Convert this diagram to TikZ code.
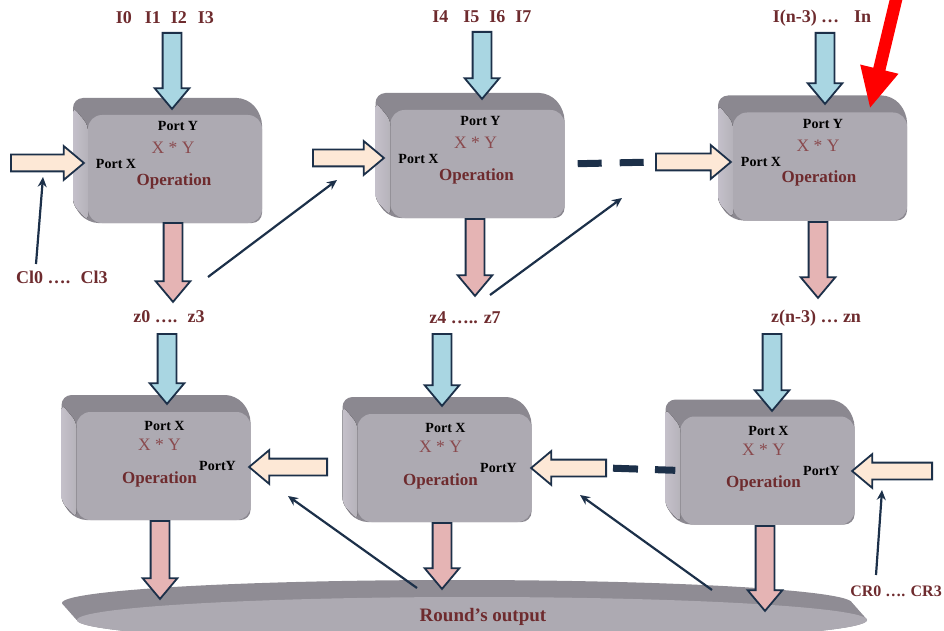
\documentclass[tikz,border=0pt]{standalone}
\usepackage{fontspec}
\setmainfont{Liberation Serif}
\usetikzlibrary{positioning, arrows.meta, shapes.arrows}

\definecolor{navy}{HTML}{1C3049}
\definecolor{maroon}{HTML}{6E2B2E}
\definecolor{mulred}{HTML}{8A4A4E}
\definecolor{lblue}{HTML}{A9D6E2}
\definecolor{lpink}{HTML}{E5B4B4}
\definecolor{peach}{HTML}{FDE8D6}
\definecolor{blktop}{HTML}{8B8890}
\definecolor{blkside}{HTML}{C4C0CA}
\definecolor{blkface}{HTML}{ADAAB2}
\definecolor{disctop}{HTML}{8F8C94}
\definecolor{discface}{HTML}{ADAAB2}

% block with its front face named #1, front centre at (#2,#3)
\newcommand{\opblock}[3]{%
  \begin{scope}[shift={(#2,#3)}]
    \fill[blktop, rounded corners=10pt] (-102,-71) -- (72,-71) -- (87,-54) -- (87,54) -- (-87,54) -- (-102,37) -- cycle;
    \fill[left color=blkside, right color=blkface!90!white, rounded corners=6pt] (-102,-62) -- (-87,-44) -- (-87,52) -- (-102,36) -- cycle;
    \node[fill=blkface, rounded corners=14pt, minimum width=174pt, minimum height=108pt, inner sep=0pt] (#1) at (0,0) {};
  \end{scope}}

\begin{document}
\begin{tikzpicture}[x=1pt, y=-1pt,
    barrow/.style={single arrow, draw=navy, line width=1.8pt, inner sep=0pt, text depth=0pt, single arrow tip angle=80, anchor=tail},
    vbar/.style={barrow, text height=17pt, single arrow head extend=8pt, rotate=-90},
    inarr/.style={vbar, fill=lblue},
    outarr/.style={vbar, fill=lpink},
    harr/.style={barrow, fill=peach, text height=15pt, single arrow head extend=8.5pt},
    thinarr/.style={draw=navy, line width=2.2pt, -{Stealth[length=10pt, width=9pt]}},
    dots/.style={draw=navy, line width=7pt},
    lbl/.style={text=maroon, font=\fontsize{18}{20}\selectfont\bfseries, inner sep=1pt},
    porttxt/.style={font=\fontsize{14}{16}\selectfont\bfseries, inner sep=1pt},
    multxt/.style={text=mulred, font=\fontsize{17.5}{19}\selectfont, inner sep=1pt},
    optxt/.style={text=maroon, font=\fontsize{17}{19}\selectfont\bfseries, inner sep=1pt}]
  \useasboundingbox (0,0) rectangle (944,631);
  \clip (0,0) rectangle (944,631);

  % output disc
  \foreach \t in {0,...,10}
    \fill[disctop] (457+1.5*\t, 603+1.7*\t) ellipse (395 and 23);
  \fill[discface] (472,620) ellipse (395 and 23);
  \node[text=maroon, font=\fontsize{19}{21}\selectfont\bfseries] (lout) at (483,617) {Round's output};

  % blocks
  \opblock{A}{175}{169}
  \opblock{B}{477.5}{164}
  \opblock{C}{820}{166.5}
  \opblock{D}{163.5}{466}
  \opblock{E}{444.5}{468}
  \opblock{F}{767.5}{470.5}

  % block texts, top row
  \foreach \b in {A,B,C}{
    \node[porttxt] (\b-py) at ([shift={(3,-43)}]\b) {Port Y};
    \node[multxt] (\b-mul) at ([shift={(-2,-21)}]\b) {X * Y};
    \node[porttxt] (\b-px) at ([shift={(-59,-5)}]\b) {Port X};
    \node[optxt] (\b-op) at ([shift={(-1,12)}]\b) {Operation};
  }
  % block texts, bottom row
  \foreach \b in {D,E,F}{
    \node[porttxt] (\b-px) at ([shift={(1,-40)}]\b) {Port X};
    \node[multxt] (\b-mul) at ([shift={(-4,-21)}]\b) {X * Y};
    \node[porttxt] (\b-py) at ([shift={(54,0)}]\b) {PortY};
    \node[optxt] (\b-op) at ([shift={(-4,13)}]\b) {Operation};
  }

  % inputs from above
  \node[inarr, minimum height=76pt] (inA) at (172,32) {};
  \node[inarr, minimum height=67pt] (inB) at (482,31) {};
  \node[inarr, minimum height=71pt] (inC) at (825,32) {};
  \node[inarr, minimum height=70pt] (inD) at (167,333) {};
  \node[inarr, minimum height=72pt] (inE) at (442,333) {};
  \node[inarr, minimum height=77pt] (inF) at (772,333) {};

  % outputs below
  \node[outarr, minimum height=79pt] (outA) at (173,222) {};
  \node[outarr, minimum height=77pt] (outB) at (475,218) {};
  \node[outarr, minimum height=76pt] (outC) at (818,221) {};
  \node[outarr, minimum height=78pt] (outD) at (160,520) {};
  \node[outarr, minimum height=66pt] (outE) at (442,522) {};
  \node[outarr, minimum height=85pt] (outF) at (765,525) {};

  % side inputs
  \node[harr, minimum height=73pt] (xA) at (10,163) {};
  \node[harr, minimum height=71pt] (xB) at (312,158) {};
  \node[harr, minimum height=75pt] (xC) at (655,162) {};
  \node[harr, rotate=180, minimum height=78pt] (yD) at (328,467) {};
  \node[harr, rotate=180, minimum height=75pt] (yE) at (607,468) {};
  \node[harr, rotate=180, minimum height=80pt] (yF) at (933,471) {};

  % dashes
  \draw[dots, dash pattern=on 24pt off 18pt, shorten <=13pt, shorten >=10pt] (B.east) -- (xC.tail);
  \draw[dots, dash pattern=on 25pt off 17pt, shorten <=6pt, shorten >=5pt] (yE.tail) -- (F.west);

  % labels
  \node[lbl] (lIA) at (165,18) {I0\hspace{13pt}I1\hspace{10pt}I2\hspace{11pt}I3};
  \node[lbl] (lIB) at (482,17) {I4\hspace{15pt}I5\hspace{10pt}I6\hspace{10pt}I7};
  \node[lbl] (lIC) at (822,18) {I(n-3) …\hspace{15pt}In};
  \node[lbl] (lzA) at (169,317) {z0 …. \ z3};
  \node[lbl] (lzB) at (465,318) {z4 ….. z7};
  \node[lbl] (lzC) at (816,318) {z(n-3) … zn};
  \node[lbl] (lcl) at (62,277) {Cl0 …. \ Cl3};
  \node[lbl, font=\fontsize{16}{18}\selectfont\bfseries, anchor=east] (lcr) at (943,591) {CR0 …. CR3};

  % thin arrows
  \coordinate (clfoot) at (36,264);   \coordinate (cltip) at (43,177);
  \coordinate (abfoot) at (208,277);  \coordinate (abtip) at (337,180);
  \coordinate (bcfoot) at (490,295);  \coordinate (bctip) at (622,198);
  \coordinate (dfoot) at (417,588);   \coordinate (dtip) at (288,496);
  \coordinate (efoot) at (712,590);   \coordinate (etip) at (580,495);
  \coordinate (crfoot) at (876,575);  \coordinate (crtip) at (882,490);
  \draw[thinarr] (clfoot) -- (cltip);
  \draw[thinarr] (abfoot) -- (abtip);
  \draw[thinarr] (bcfoot) -- (bctip);
  \draw[thinarr] (dfoot) -- (dtip);
  \draw[thinarr] (efoot) -- (etip);
  \draw[thinarr] (crfoot) -- (crtip);

  % red pointer
  \node[single arrow, fill=red, inner sep=0pt, text height=12pt, text depth=0pt, single arrow head extend=13.5pt, single arrow tip angle=53, minimum height=124pt, rotate=256.5, anchor=tip] (hint) at (870,108) {};
\end{tikzpicture}
\end{document}
